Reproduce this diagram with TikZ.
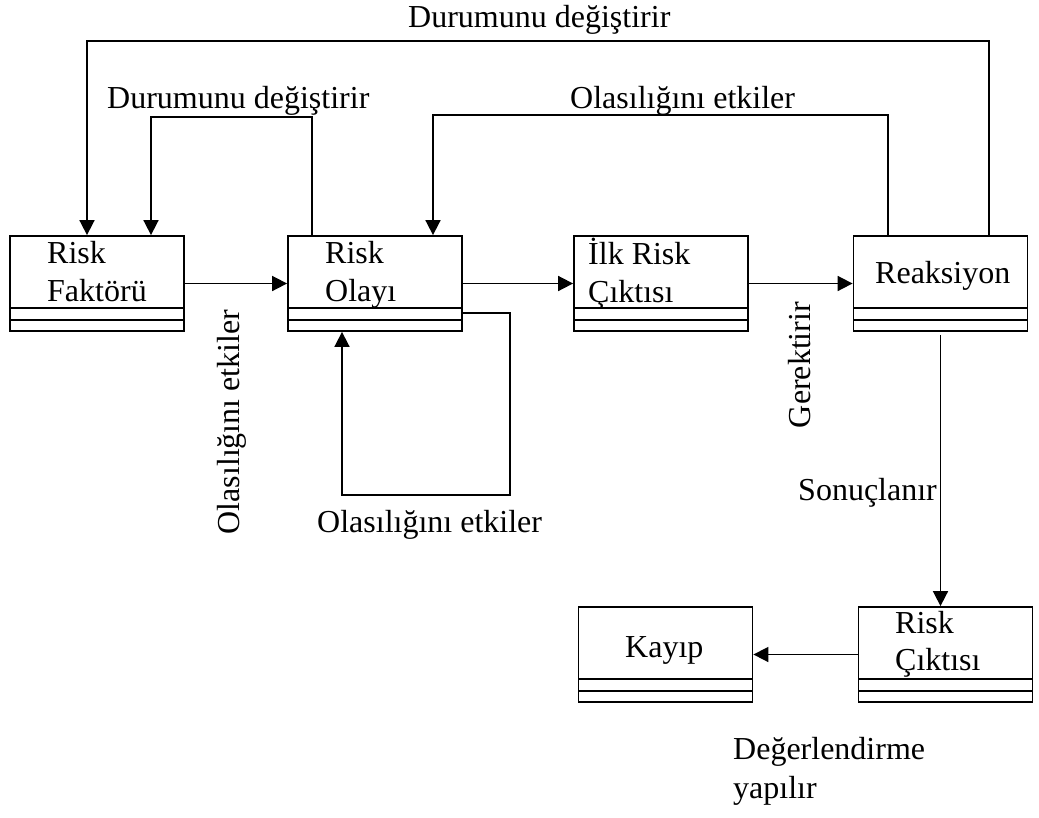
\documentclass[tikz,border=0pt]{standalone}
\usepackage{fontspec}
\setmainfont{Liberation Serif}
\usetikzlibrary{arrows.meta}
\begin{document}
\begin{tikzpicture}[x=1pt,y=-1pt,
  box/.style={draw, line width=1.8pt, minimum width=174pt, minimum height=95pt, inner sep=0pt,
    path picture={
      \draw[line width=1.8pt] ([yshift=23pt]path picture bounding box.south west) -- ([yshift=23pt]path picture bounding box.south east);
      \draw[line width=1.8pt] ([yshift=11pt]path picture bounding box.south west) -- ([yshift=11pt]path picture bounding box.south east);}},
  txt/.style={inner sep=0pt, anchor=base west, font=\fontsize{32}{38}\selectfont},
  link/.style={line width=1.7pt},
  arr/.style={link, -{Triangle[length=15pt,width=15pt]}}]

\useasboundingbox (0,0) rectangle (1039,817);

% boxes
\node[box] (rf) at (97,283.5) {};
\node[box] (ro) at (375,283.5) {};
\node[box] (ir) at (661,283.5) {};
\node[box] (re) at (940.5,283.5) {};
\node[box] (ka) at (665.5,654.5) {};
\node[box] (rc) at (945.5,654.5) {};

% box captions
\node[txt] (rf1) at (47,263) {Risk};
\node[txt] (rf2) at (47,301) {Faktörü};
\node[txt] (ro1) at (325,263) {Risk};
\node[txt] (ro2) at (325,301) {Olayı};
\node[txt] (ir1) at (588,264) {İlk Risk};
\node[txt] (ir2) at (588,302) {Çıktısı};
\node[txt] (re1) at (875,283) {Reaksiyon};
\node[txt] (ka1) at (625,657) {Kayıp};
\node[txt] (rc1) at (895,633) {Risk};
\node[txt] (rc2) at (895,670) {Çıktısı};

% main chain
\draw[arr] (rf.east) -- (ro.west);
\draw[arr] (ro.east) -- (ir.west);
\draw[arr] (ir.east) -- (re.west);
\draw[arr, shorten <=3pt] (re.south) -- (re.south |- rc.north);
\draw[arr] (rc.west) -- (ka.east);

% feedback loops
\draw[arr] ([xshift=48.5pt]re.north) -- ([xshift=48.5pt]re.north |- 0,41) -| ([xshift=-10pt]rf.north);
\draw[arr] ([xshift=-52.5pt]re.north) -- ([xshift=-52.5pt]re.north |- 0,115) -| ([xshift=58pt]ro.north);
\draw[arr] ([xshift=-63pt]ro.north) -- ([xshift=-63pt]ro.north |- 0,117) -| ([xshift=54pt]rf.north);
\draw[arr] ([yshift=19pt]ro.south east) -- ++(47,0) -- ++(0,182) -| ([xshift=-33pt]ro.south);

% connector labels
\node[txt] (l1) at (408,27) {Durumunu değiştirir};
\node[txt] (l2) at (107,108) {Durumunu değiştirir};
\node[txt] (l3) at (570,108) {Olasılığını etkiler};
\node[txt] (l4) at (317,532) {Olasılığını etkiler};
\node[txt, anchor=center, rotate=90] (l5) at (232,422) {Olasılığını etkiler};
\node[txt, anchor=center, rotate=90] (l6) at (800,365) {Gerektirir};
\node[txt] (l7) at (798,500) {Sonuçlanır};
\node[txt] (l8) at (733,759) {Değerlendirme};
\node[txt] (l9) at (733,798) {yapılır};
\end{tikzpicture}
\end{document}
